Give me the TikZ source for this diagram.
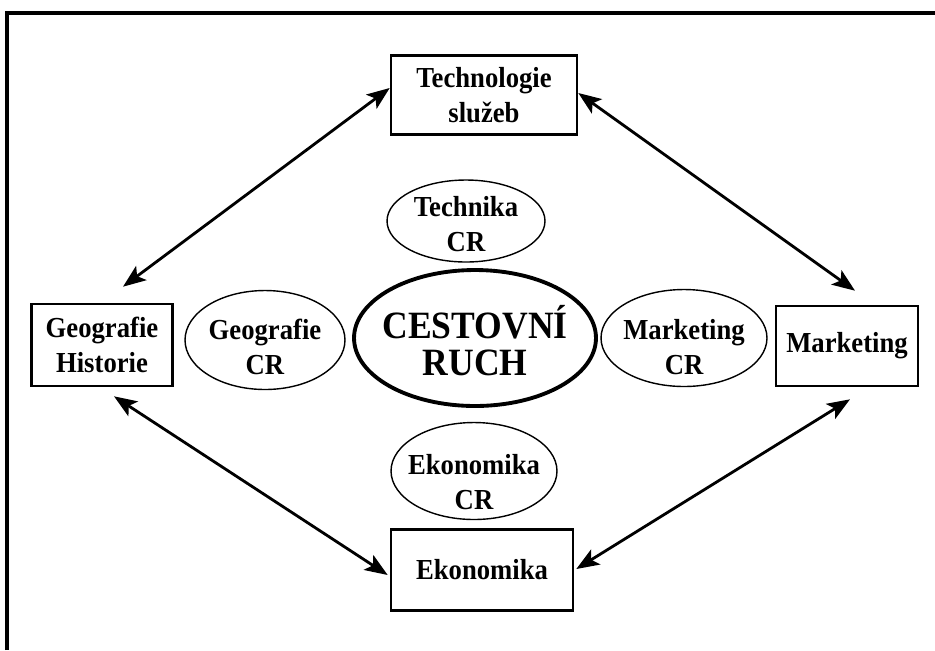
\documentclass[tikz,border=0pt]{standalone}
\usepackage{fontspec}
\setmainfont{Liberation Serif}[FakeStretch=0.92]
\usetikzlibrary{arrows.meta}
\begin{document}
\begin{tikzpicture}[x=0.02cm,y=-0.02cm,
  lbl/.style={font=\bfseries\fontsize{16.5}{20}\selectfont, align=center, inner sep=0pt},
  rbox/.style={lbl, draw, line width=1.5pt},
  oval/.style={line width=0.8pt},
  arr/.style={line width=1.6pt, {Stealth[length=13pt,width=10pt,inset=3pt]}-{Stealth[length=13pt,width=10pt,inset=3pt]}}]
\useasboundingbox (0,0) rectangle (935,650);
% frame
\draw[line width=1.8pt] (7,650) -- (7,13) -- (935,13);
% boxes
\node[rbox, minimum width=3.72cm, minimum height=1.58cm] (tech) at (484,95) {Technologie\\služeb};
\node[rbox, minimum width=2.82cm, minimum height=1.64cm] (geo) at (102,345) {Geografie\\Historie};
\node[rbox, minimum width=2.84cm, minimum height=1.6cm] (mkt) at (847,346) {Marketing};
\node[rbox, minimum width=3.64cm, minimum height=1.62cm] (eko) at (482,570) {Ekonomika};
% ellipses
\node[lbl] (techcr) at (466,224) {Technika\\CR};
\draw[oval] (466,221) ellipse [x radius=1.58cm, y radius=0.82cm];
\node[lbl] (geocr) at (265,347) {Geografie\\CR};
\draw[oval] (265,340) ellipse [x radius=1.6cm, y radius=0.99cm];
\node[lbl] (mktcr) at (684,347) {Marketing\\CR};
\draw[oval] (684,338) ellipse [x radius=1.66cm, y radius=0.97cm];
\node[lbl] (ekocr) at (474,482) {Ekonomika\\CR};
\draw[oval] (474,471) ellipse [x radius=1.66cm, y radius=0.97cm];
\node[lbl, font=\bfseries\fontsize{22}{21}\selectfont] (cr) at (475,341) {CESTOVNÍ\\RUCH};
\draw[line width=2.2pt] (475,338) ellipse [x radius=2.42cm, y radius=1.36cm];
% arrows
\draw[arr] ([xshift=0.42cm,yshift=0.32cm]geo.north) -- ([yshift=0.14cm]tech.west);
\draw[arr] ([yshift=0.04cm]tech.east) -- ([xshift=0.16cm,yshift=0.28cm]mkt.north);
\draw[arr] ([xshift=0.24cm,yshift=-0.18cm]geo.south) -- ([xshift=-0.04cm,yshift=-0.1cm]eko.west);
\draw[arr] ([xshift=0.04cm,yshift=0.02cm]eko.east) -- ([xshift=0.06cm,yshift=-0.24cm]mkt.south);
\end{tikzpicture}
\end{document}
